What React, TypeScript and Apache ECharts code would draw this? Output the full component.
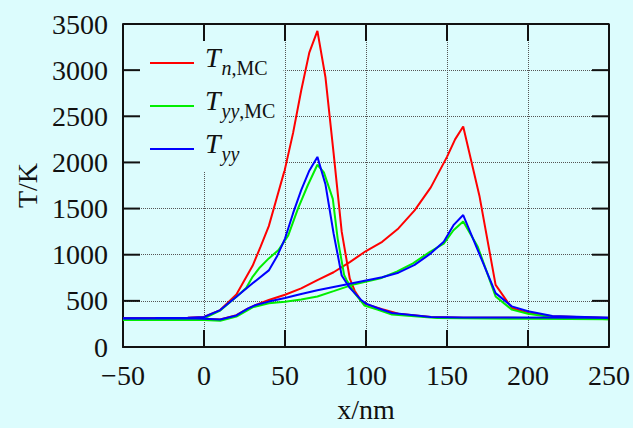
import React, { useEffect, useRef } from "react";
import * as echarts from "echarts";

// ---- data (x in nm, T in K) ----
const xTicks = [-50, 0, 50, 100, 150, 200, 250];
const yTicks = [0, 500, 1000, 1500, 2000, 2500, 3000, 3500];

const seriesNames = ["Tn,MC", "Tyy,MC", "Tyy"];
const seriesColors = ["#ff0000", "#00ee00", "#0000ff"];

// T_n,MC : branch with the first (tall) peak
const tnMcBranch1: [number, number][] = [
  [-50, 312], [-30, 313], [-10, 318], [0, 325], [10, 400], [20, 570], [30, 880],
  [35, 1090], [40, 1310], [45, 1620], [50, 1930], [55, 2320], [60, 2780], [65, 3190],
  [70, 3425], [75, 2920], [80, 2100], [85, 1250], [90, 740], [93, 610], [97, 500],
  [100, 465], [110, 410], [120, 360], [140, 325], [160, 318], [200, 315], [250, 315],
];
// T_n,MC : branch with the second peak
const tnMcBranch2: [number, number][] = [
  [-50, 310], [-30, 310], [-10, 312], [0, 305], [10, 298], [20, 345], [27, 415],
  [32, 455], [40, 510], [50, 566], [60, 635], [70, 725], [80, 810], [90, 920],
  [100, 1040], [110, 1140], [120, 1285], [130, 1480], [140, 1730], [150, 2060],
  [155, 2250], [160, 2390], [170, 1640], [180, 673], [190, 423], [200, 369],
  [215, 333], [250, 315],
];

// T_yy,MC
const tyyMcBranch1: [number, number][] = [
  [-50, 295], [-30, 297], [-10, 302], [0, 310], [10, 395], [20, 545], [26, 640],
  [30, 760], [34, 853], [40, 960], [46, 1050], [52, 1210], [58, 1500], [64, 1750],
  [70, 1975], [74, 1892], [79.5, 1605], [82.5, 1175], [86.5, 781], [88, 727],
  [93, 584], [99, 450], [107, 405], [116, 351], [144, 315], [200, 305], [250, 300],
];
const tyyMcBranch2: [number, number][] = [
  [-50, 292], [-30, 293], [-10, 296], [0, 292], [10, 285], [20, 330], [30, 430],
  [40, 475], [50, 490], [60, 515], [70, 548], [80, 605], [93, 681], [109, 745],
  [119, 817], [129, 906], [139.5, 1032], [148, 1121], [154, 1265], [160, 1361],
  [169, 1086], [180, 548], [190, 405], [200, 360], [215, 322], [250, 300],
];

// T_yy
const tyyBranch1: [number, number][] = [
  [-50, 312], [-30, 313], [-10, 318], [0, 325], [10, 400], [20, 545], [30, 690],
  [40, 830], [45, 980], [50, 1175], [55, 1450], [60, 1700], [65, 1910], [70, 2060],
  [75, 1760], [80, 1230], [85, 775], [90, 640], [97, 510], [100, 470], [107, 423],
  [116, 369], [140, 326], [160, 320], [250, 316],
];
const tyyBranch2: [number, number][] = [
  [-50, 310], [-30, 310], [-10, 312], [0, 305], [10, 297], [20, 342], [27, 415],
  [32, 455], [40, 492], [50, 530], [60, 575], [70, 615], [80, 650], [90, 685],
  [100, 720], [110, 755], [120, 805], [130, 890], [140, 1015], [148, 1140],
  [154, 1320], [160, 1430], [180, 584], [190, 440], [200, 387], [215, 335],
  [250, 318],
];

const branches: [number, [number, number][]][] = [
  [0, tnMcBranch1], [0, tnMcBranch2],
  [1, tyyMcBranch1], [1, tyyMcBranch2],
  [2, tyyBranch1], [2, tyyBranch2],
];

const BG = "#dcfcfd";
const SERIF = "'Liberation Serif', 'DejaVu Serif', serif";
const INK = "#111";
const TICK_LEN = 17;

function fmtTick(v: number): string {
  return v < 0 ? "\u2212" + Math.abs(v) : String(v);
}

const legendRich: Record<string, string> = {
  "Tn,MC": "{T|T}{si|n}{sr|,MC}",
  "Tyy,MC": "{T|T}{si|yy}{sr|,MC}",
  Tyy: "{T|T}{si|yy}",
};

export default function App() {
  const ref = useRef<HTMLDivElement>(null);
  useEffect(() => {
    if (!ref.current) return;
    const chart = echarts.init(ref.current, undefined, { renderer: "svg" });
    const xMin = xTicks[0];
    const xMax = xTicks[xTicks.length - 1];
    const yMin = yTicks[0];
    const yMax = yTicks[yTicks.length - 1];

    const dataSeries = branches.map(([idx, data]) => ({
      type: "line",
      name: seriesNames[idx],
      data,
      showSymbol: false,
      symbol: "none",
      color: seriesColors[idx],
      lineStyle: { color: seriesColors[idx], width: 2 },
      z: 2 + idx,
    }));

    chart.setOption({
      animation: false,
      textStyle: { fontFamily: SERIF },
      grid: { left: 123, right: 19, top: 24, bottom: 79 },
      legend: {
        show: true,
        orient: "vertical",
        left: 140,
        top: 41,
        padding: [2, 8, 2, 10],
        itemGap: 3,
        itemWidth: 44,
        itemHeight: 2,
        icon: "rect",
        backgroundColor: BG,
        selectedMode: false,
        data: seriesNames.map((n) => ({ name: n, icon: "rect" })),
        formatter: (name: string) => legendRich[name] || name,
        textStyle: {
          color: INK,
          fontFamily: SERIF,
          rich: {
            T: { fontSize: 28, fontStyle: "italic", fontFamily: SERIF, color: INK, lineHeight: 28, padding: [0, 1, 12, 6] },
            si: { fontSize: 20, fontStyle: "italic", fontFamily: SERIF, color: INK, lineHeight: 28, padding: [9, 0, 0, 0] },
            sr: { fontSize: 20, fontFamily: SERIF, color: INK, lineHeight: 28, padding: [9, 0, 0, 0] },
          },
        },
      },
      xAxis: {
        type: "value",
        min: xMin,
        max: xMax,
        interval: 50,
        position: "bottom",
        name: "x/nm",
        nameLocation: "middle",
        nameGap: 48,
        nameTextStyle: { fontSize: 28, fontFamily: SERIF, color: INK },
        axisLine: { show: true, onZero: false, lineStyle: { color: INK, width: 2 } },
        axisTick: { show: false },
        axisLabel: { formatter: fmtTick, fontSize: 28, fontFamily: SERIF, color: INK, margin: 14 },
        splitLine: { show: true, lineStyle: { color: "#555", width: 1, type: "dotted" } },
      },
      yAxis: {
        type: "value",
        min: yMin,
        max: yMax,
        interval: 500,
        position: "left",
        name: "T/K",
        nameLocation: "middle",
        nameGap: 78,
        nameRotate: 90,
        nameTextStyle: { fontSize: 28, fontFamily: SERIF, color: INK },
        axisLine: { show: true, onZero: false, lineStyle: { color: INK, width: 2 } },
        axisTick: { show: false },
        axisLabel: { formatter: fmtTick, fontSize: 28, fontFamily: SERIF, color: INK, margin: 15 },
        splitLine: { show: true, lineStyle: { color: "#555", width: 1, type: "dotted" } },
      },
      series: dataSeries,
    });

    // tick length (17 px) expressed in data units, taken from the chart's own scales
    const p0 = chart.convertToPixel({ gridIndex: 0 }, [xMin, yMin]) as number[];
    const p1 = chart.convertToPixel({ gridIndex: 0 }, [xMax, yMax]) as number[];
    const dx = (TICK_LEN * (xMax - xMin)) / Math.abs(p1[0] - p0[0]);
    const dy = (TICK_LEN * (yMax - yMin)) / Math.abs(p0[1] - p1[1]);

    const deco = (data: [number, number][]) => ({
      type: "line",
      data,
      showSymbol: false,
      symbol: "none",
      silent: true,
      clip: false,
      color: INK,
      lineStyle: { color: INK, width: 2 },
      z: 10,
    });
    const tickSeries: any[] = [];
    xTicks.slice(1, -1).forEach((v) => {
      tickSeries.push(deco([[v, yMin], [v, yMin + dy]]));
      tickSeries.push(deco([[v, yMax], [v, yMax - dy]]));
    });
    yTicks.slice(1, -1).forEach((v) => {
      tickSeries.push(deco([[xMin, v], [xMin + dx, v]]));
      tickSeries.push(deco([[xMax, v], [xMax - dx, v]]));
    });
    tickSeries.push(deco([[xMin, yMax], [xMax, yMax], [xMax, yMin]]));

    chart.setOption({ series: [...dataSeries, ...tickSeries] });
    return () => chart.dispose();
  }, []);
  return (
    <div
      ref={ref}
      style={{ position: "fixed", left: 0, top: 0, width: 633, height: 428, background: BG }}
    />
  );
}
